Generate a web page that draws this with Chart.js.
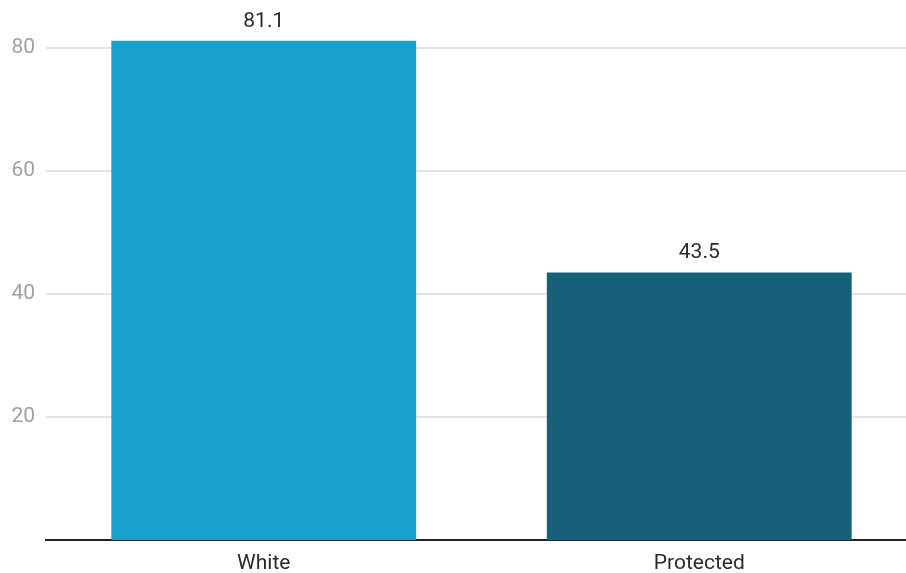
<!DOCTYPE html>
<html>
<head>
<meta charset="utf-8">
<script src="https://cdn.jsdelivr.net/npm/chart.js@4/dist/chart.umd.min.js"></script>
<style>
  html, body { margin: 0; padding: 0; background: #fff; overflow: hidden; width: 906px; height: 573px; }
  canvas { display: block; }
</style>
</head>
<body>
<canvas id="chart" width="917" height="573"></canvas>
<script>
const categories = ["White", "Protected"];
const values = [81.1, 43.5];
const barColors = ["#19a1cd", "#17607a"];
const yTickValues = [20, 40, 60, 80];

const FONT = "Roboto, 'Noto Sans', sans-serif";

const valueLabels = {
  id: "valueLabels",
  afterDatasetsDraw(chart) {
    const ctx = chart.ctx;
    const meta = chart.getDatasetMeta(0);
    ctx.save();
    ctx.font = "21px " + FONT;
    ctx.fillStyle = "#2b2b2b";
    ctx.textAlign = "center";
    ctx.textBaseline = "alphabetic";
    meta.data.forEach((bar, i) => {
      ctx.fillText(values[i].toFixed(1), bar.x, bar.y - 14);
    });
    ctx.restore();
  }
};

new Chart(document.getElementById("chart"), {
  type: "bar",
  data: {
    labels: categories,
    datasets: [{
      data: values,
      backgroundColor: barColors,
      borderWidth: 0,
      categoryPercentage: 1.0,
      barPercentage: 0.7
    }]
  },
  options: {
    responsive: false,
    animation: false,
    devicePixelRatio: 1,
    layout: { padding: { top: 9, right: 0, bottom: 0, left: 0 } },
    plugins: {
      legend: { display: false },
      tooltip: { enabled: false }
    },
    scales: {
      x: {
        grid: { display: false },
        border: { display: true, color: "#222222", width: 2 },
        ticks: {
          color: "#2b2b2b",
          padding: 3,
          font: { family: FONT, size: 21 }
        },
        afterFit(scale) { scale.height = 32.7; }
      },
      y: {
        min: 0,
        max: 83.9,
        border: { display: false },
        grid: {
          color: "#e4e4e4",
          lineWidth: 2,
          drawTicks: false
        },
        ticks: {
          color: "#a0a0a0",
          padding: 11,
          font: { family: FONT, size: 21 }
        },
        afterBuildTicks(scale) {
          scale.ticks = yTickValues.map(v => ({ value: v }));
        },
        afterFit(scale) { scale.width = 46; }
      }
    }
  },
  plugins: [valueLabels]
});
</script>
</body>
</html>
